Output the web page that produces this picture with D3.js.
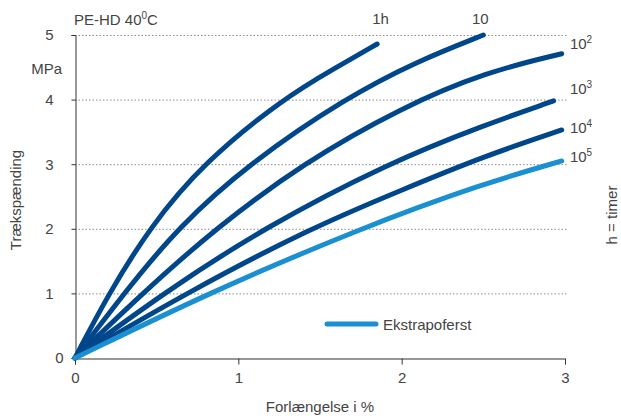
<!DOCTYPE html>
<html>
<head>
    <title>PE-HD 40C</title>
    <script src="https://d3js.org/d3.v7.min.js"></script>
    <style>
        body { margin: 0; background: #fff; }
        svg text { font-family: "Liberation Sans", Arial, sans-serif; fill: #444; }
    </style>
</head>
<body>
    <svg id="chart" width="621" height="420"></svg>

    <script>

// strain in %, stress in MPa
var curve_1h  = [[0,0],[0.2,0.97],[0.46,2.03],[0.786,3.02],[1.276,4.02],[1.6,4.5],[1.85,4.86]];
var curve_10  = [[0,0],[0.306,1.02],[0.63,2.02],[1.07,3.02],[1.66,4.03],[2.1,4.6],[2.5,5.0]];
var curve_e2  = [[0,0],[0.42,1.02],[0.867,2.02],[1.4,3.02],[2.0,3.88],[2.52,4.43],[2.98,4.71]];
var curve_e3  = [[0,0],[0.55,1.02],[1.16,2.02],[1.92,3.02],[2.5,3.6],[2.93,3.98]];
var curve_e4  = [[0,0],[0.69,1.02],[1.45,2.02],[2.0,2.6],[2.5,3.12],[2.98,3.53]];
var curve_e5  = [[0,0],[0.82,1.01],[1.75,2.01],[2.5,2.7],[2.98,3.05]];

var x_ticks = [0, 1, 2, 3];
var y_ticks = [0, 1, 2, 3, 4, 5];

var series = [
    { pts: curve_1h, color: "#00468a", label: "1h", sup: "" },
    { pts: curve_10, color: "#00468a", label: "10", sup: "" },
    { pts: curve_e2, color: "#00468a", label: "10", sup: "2" },
    { pts: curve_e3, color: "#00468a", label: "10", sup: "3" },
    { pts: curve_e4, color: "#00468a", label: "10", sup: "4" },
    { pts: curve_e5, color: "#1a8fd1", label: "10", sup: "5" }
];

// label anchor points (data coords)
var label_pos = [[1.82, 5.17], [2.43, 5.17], [3.03, 4.78], [3.03, 4.08], [3.03, 3.48], [3.03, 3.04]];

var svg = d3.select("#chart");

var x = d3.scaleLinear().domain([0, 3]).range([75, 565]);
var y = d3.scaleLinear().domain([0, 5]).range([358, 35]);

// dotted grid
svg.append("g")
    .selectAll("line")
    .data(y_ticks.filter(function (d) { return d > 0; }))
    .enter().append("line")
      .attr("x1", x(0)).attr("x2", x(3) + 2)
      .attr("y1", function (d) { return y(d) + 0.5; })
      .attr("y2", function (d) { return y(d) + 0.5; })
      .attr("stroke", "#8a8a8a")
      .attr("stroke-width", 1)
      .attr("stroke-dasharray", "1.5,2");

// axes
var xAxis = svg.append("g")
    .attr("transform", "translate(0," + (y(0) + 0.5) + ")")
    .call(d3.axisBottom(x).tickValues(x_ticks).tickSize(6).tickPadding(8).tickFormat(d3.format("d")));

var yAxis = svg.append("g")
    .attr("transform", "translate(" + (x(0) + 0.5) + ",0)")
    .call(d3.axisLeft(y).tickValues(y_ticks).tickSize(4).tickPadding(18).tickFormat(d3.format("d")));

[xAxis, yAxis].forEach(function (g) {
    g.select(".domain").attr("stroke", "#333");
    g.selectAll(".tick line").attr("stroke", "#333");
    g.selectAll(".tick text")
        .style("font-family", "Liberation Sans, Arial, sans-serif")
        .style("font-size", "15px")
        .attr("fill", "#444");
});

// origin label sits a bit closer to the axis
yAxis.selectAll(".tick text").filter(function (d) { return d === 0; }).attr("x", -12);

// curves
var line = d3.line()
    .x(function (d) { return x(d[0]); })
    .y(function (d) { return y(d[1]); })
    .curve(d3.curveBasis);

svg.append("g")
    .selectAll("path")
    .data(series)
    .enter().append("path")
      .attr("d", function (s) { return line(s.pts); })
      .attr("fill", "none")
      .attr("stroke", function (s) { return s.color; })
      .attr("stroke-width", 5)
      .attr("stroke-linecap", "round")
      .attr("stroke-linejoin", "round");

// curve labels
var labels = svg.append("g")
    .selectAll("text")
    .data(series)
    .enter().append("text")
      .attr("x", function (s, i) { return x(label_pos[i][0]); })
      .attr("y", function (s, i) { return y(label_pos[i][1]); })
      .style("font-size", "15px");

labels.append("tspan").text(function (s) { return s.label; });
labels.append("tspan")
    .attr("dy", -6)
    .style("font-size", "10px")
    .text(function (s) { return s.sup; });

// title
var title = svg.append("text")
    .attr("x", 74).attr("y", 25)
    .style("font-size", "15px");
title.append("tspan").text("PE-HD 40");
title.append("tspan").attr("dy", -6).style("font-size", "10px").text("0");
title.append("tspan").attr("dy", 6).text("C");

// unit
svg.append("text")
    .attr("x", 62).attr("y", 74)
    .attr("text-anchor", "end")
    .style("font-size", "15px")
    .text("MPa");

// axis titles
svg.append("text")
    .attr("transform", "translate(21,200) rotate(-90)")
    .attr("text-anchor", "middle")
    .style("font-size", "15px")
    .text("Trækspænding");

svg.append("text")
    .attr("x", 320).attr("y", 412)
    .attr("text-anchor", "middle")
    .style("font-size", "15px")
    .text("Forlængelse i %");

svg.append("text")
    .attr("transform", "translate(617,215) rotate(-90)")
    .attr("text-anchor", "middle")
    .style("font-size", "15px")
    .text("h = timer");

// legend
svg.append("line")
    .attr("x1", 327).attr("x2", 376)
    .attr("y1", 324).attr("y2", 324)
    .attr("stroke", "#1a8fd1")
    .attr("stroke-width", 5)
    .attr("stroke-linecap", "round");

svg.append("text")
    .attr("x", 383).attr("y", 330)
    .style("font-size", "15px")
    .text("Ekstrapoferst");

    </script>
</body>
</html>
